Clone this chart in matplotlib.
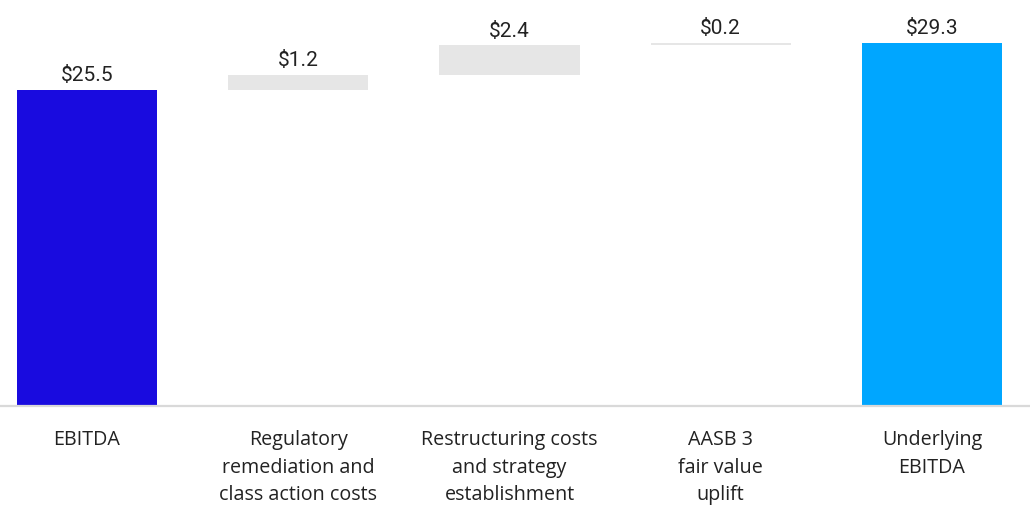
import matplotlib
matplotlib.use("Agg")
import matplotlib.pyplot as plt

categories = [
    "EBITDA",
    "Regulatory\nremediation and\nclass action costs",
    "Restructuring costs\nand strategy\nestablishment",
    "AASB 3\nfair value\nuplift",
    "Underlying\nEBITDA",
]
start_value = 25.5
adjustments = [1.2, 2.4, 0.2]
end_value = 29.3
value_labels = ["$25.5", "$1.2", "$2.4", "$0.2", "$29.3"]

colors = ["#190bdf", "#e6e6e6", "#e6e6e6", "#e6e6e6", "#00a6ff"]

# waterfall bottoms / heights
bottoms = [0.0]
heights = [start_value]
running = start_value
for adj in adjustments:
    bottoms.append(running)
    heights.append(adj)
    running += adj
bottoms.append(0.0)
heights.append(end_value)

fig = plt.figure(figsize=(10.30, 5.07), dpi=100)
ax = fig.add_axes([0.0, 0.199, 1.0, 0.801])

x = list(range(len(categories)))
ax.bar(x, heights, bottom=bottoms, width=0.663, color=colors, zorder=2)

for xi, b, h, lab in zip(x, bottoms, heights, value_labels):
    ax.annotate(lab, (xi, b + h), xytext=(0, 3.5), textcoords="offset points",
                ha="center", va="bottom", fontsize=15, family="Roboto",
                color="#222222")

ax.set_xlim(-0.412, 4.464)
ax.set_ylim(0, 32.77)

for side in ["top", "right", "left"]:
    ax.spines[side].set_visible(False)
ax.spines["bottom"].set_color("#d9d9d9")
ax.spines["bottom"].set_linewidth(1.6)
ax.set_yticks([])
ax.set_xticks(x)
ax.set_xticklabels(categories, fontsize=14.2, family="Open Sans",
                   color="#222222", linespacing=1.52)
ax.tick_params(axis="x", length=0, pad=17)

fig.savefig("out.png", dpi=100)
